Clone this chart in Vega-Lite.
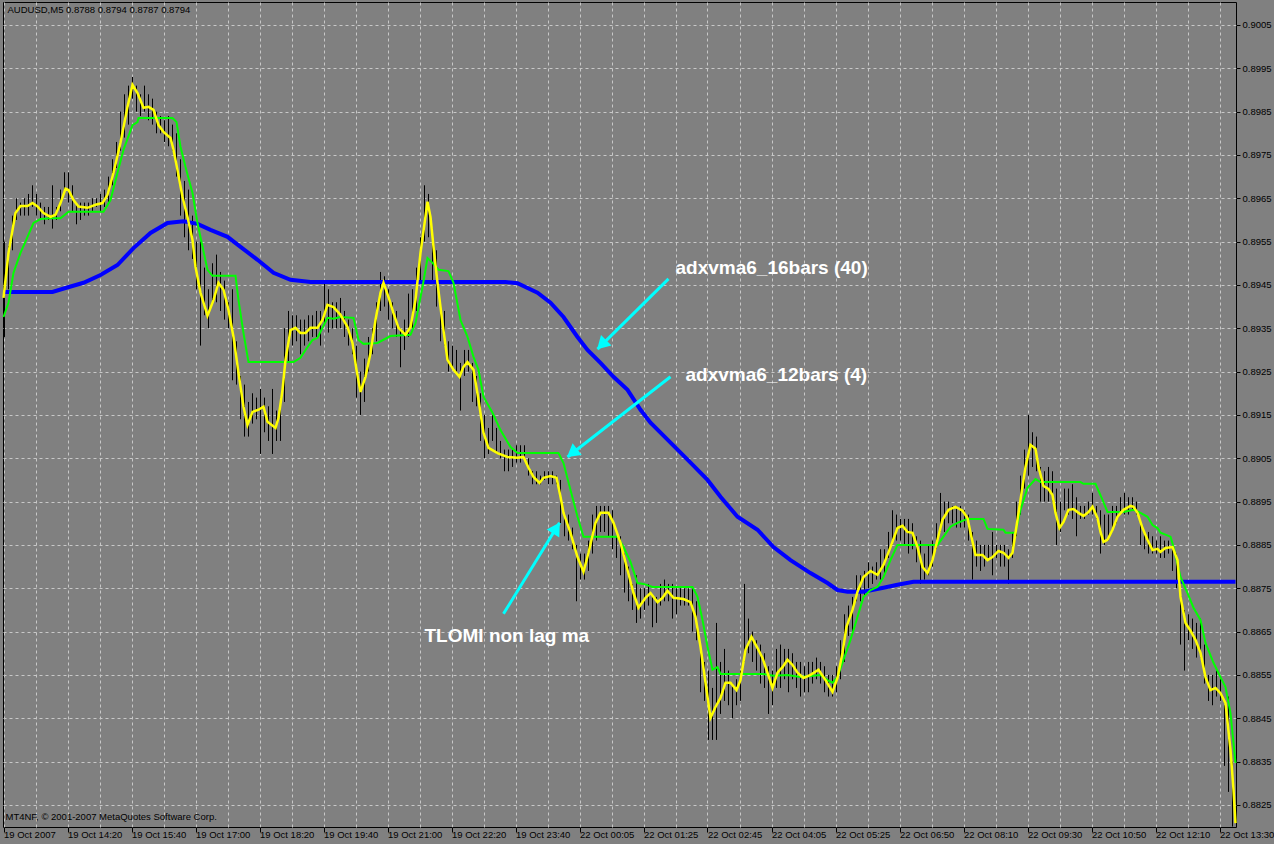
{
"$schema": "https://vega.github.io/schema/vega-lite/v6.json",
"width": 1233, "height": 825,
"autosize": {"type": "none"},
"padding": {"left": 3, "top": 2, "right": 38, "bottom": 17},
"background": "#808080",
"config": {"view": {"stroke": "#000000", "strokeWidth": 1, "fill": "#808080"}, "font": "Liberation Sans"},
"datasets": {
"bars": [
{"i":0,"p":0.8955,"l":0.8933},{"i":1,"p":0.8954,"l":0.8944},{"i":2,"p":0.8961,"l":0.8953},{"i":3,"p":0.8965,"l":0.8960},{"i":4,"p":0.8964,"l":0.8961},
{"i":5,"p":0.8965,"l":0.8961},{"i":6,"p":0.8966,"l":0.8961},{"i":7,"p":0.8968,"l":0.8963},{"i":8,"p":0.8966,"l":0.8961},{"i":9,"p":0.8964,"l":0.8960},
{"i":10,"p":0.8963,"l":0.8959},{"i":11,"p":0.8963,"l":0.8960},{"i":12,"p":0.8968,"l":0.8958},{"i":13,"p":0.8963,"l":0.8960},{"i":14,"p":0.8967,"l":0.8962},
{"i":15,"p":0.8971,"l":0.8966},{"i":16,"p":0.8971,"l":0.8964},{"i":17,"p":0.8968,"l":0.8962},{"i":18,"p":0.8964,"l":0.8959},{"i":19,"p":0.8964,"l":0.8960},
{"i":20,"p":0.8964,"l":0.8961},{"i":21,"p":0.8964,"l":0.8961},{"i":22,"p":0.8965,"l":0.8962},{"i":23,"p":0.8965,"l":0.8963},{"i":24,"p":0.8966,"l":0.8962},
{"i":25,"p":0.8967,"l":0.8963},{"i":26,"p":0.8970,"l":0.8964},{"i":27,"p":0.8974,"l":0.8968},{"i":28,"p":0.8978,"l":0.8972},{"i":29,"p":0.8985,"l":0.8976},
{"i":30,"p":0.8989,"l":0.8979},{"i":31,"p":0.8991,"l":0.8982},{"i":32,"p":0.8993,"l":0.8988},{"i":33,"p":0.8991,"l":0.8985},{"i":34,"p":0.8989,"l":0.8984},
{"i":35,"p":0.8991,"l":0.8985},{"i":36,"p":0.8989,"l":0.8983},{"i":37,"p":0.8988,"l":0.8982},{"i":38,"p":0.8985,"l":0.8980},{"i":39,"p":0.8984,"l":0.8980},
{"i":40,"p":0.8983,"l":0.8978},{"i":41,"p":0.8984,"l":0.8977},{"i":42,"p":0.8982,"l":0.8976},{"i":43,"p":0.8980,"l":0.8970},{"i":44,"p":0.8974,"l":0.8961},
{"i":45,"p":0.8969,"l":0.8956},{"i":46,"p":0.8967,"l":0.8953},{"i":47,"p":0.8961,"l":0.8951},{"i":48,"p":0.8955,"l":0.8944},{"i":49,"p":0.8955,"l":0.8931},
{"i":50,"p":0.8949,"l":0.8938},{"i":51,"p":0.8944,"l":0.8935},{"i":52,"p":0.8950,"l":0.8941},{"i":53,"p":0.8952,"l":0.8941},{"i":54,"p":0.8948,"l":0.8939},
{"i":55,"p":0.8946,"l":0.8937},{"i":56,"p":0.8941,"l":0.8935},{"i":57,"p":0.8944,"l":0.8923},{"i":58,"p":0.8932,"l":0.8922},{"i":59,"p":0.8924,"l":0.8914},
{"i":60,"p":0.8922,"l":0.8910},{"i":61,"p":0.8918,"l":0.8910},{"i":62,"p":0.8920,"l":0.8913},{"i":63,"p":0.8919,"l":0.8914},{"i":64,"p":0.8921,"l":0.8906},
{"i":65,"p":0.8919,"l":0.8911},{"i":66,"p":0.8917,"l":0.8909},{"i":67,"p":0.8921,"l":0.8906},{"i":68,"p":0.8916,"l":0.8909},{"i":69,"p":0.8919,"l":0.8909},
{"i":70,"p":0.8935,"l":0.8918},{"i":71,"p":0.8939,"l":0.8927},{"i":72,"p":0.8938,"l":0.8931},{"i":73,"p":0.8938,"l":0.8932},{"i":74,"p":0.8937,"l":0.8929},
{"i":75,"p":0.8937,"l":0.8931},{"i":76,"p":0.8938,"l":0.8932},{"i":77,"p":0.8938,"l":0.8933},{"i":78,"p":0.8939,"l":0.8933},{"i":79,"p":0.8939,"l":0.8931},
{"i":80,"p":0.8946,"l":0.8936},{"i":81,"p":0.8944,"l":0.8934},{"i":82,"p":0.8941,"l":0.8935},{"i":83,"p":0.8941,"l":0.8935},{"i":84,"p":0.8942,"l":0.8935},
{"i":85,"p":0.8939,"l":0.8933},{"i":86,"p":0.8937,"l":0.8931},{"i":87,"p":0.8935,"l":0.8929},{"i":88,"p":0.8931,"l":0.8919},{"i":89,"p":0.8925,"l":0.8915},
{"i":90,"p":0.8928,"l":0.8918},{"i":91,"p":0.8933,"l":0.8925},{"i":92,"p":0.8935,"l":0.8929},{"i":93,"p":0.8941,"l":0.8932},{"i":94,"p":0.8948,"l":0.8939},
{"i":95,"p":0.8947,"l":0.8940},{"i":96,"p":0.8944,"l":0.8937},{"i":97,"p":0.8941,"l":0.8935},{"i":98,"p":0.8939,"l":0.8933},{"i":99,"p":0.8935,"l":0.8926},
{"i":100,"p":0.8937,"l":0.8930},{"i":101,"p":0.8943,"l":0.8933},{"i":102,"p":0.8944,"l":0.8935},{"i":103,"p":0.8949,"l":0.8939},{"i":104,"p":0.8956,"l":0.8946},
{"i":105,"p":0.8968,"l":0.8955},{"i":106,"p":0.8966,"l":0.8956},{"i":107,"p":0.8958,"l":0.8946},{"i":108,"p":0.8953,"l":0.8940},{"i":109,"p":0.8941,"l":0.8932},
{"i":110,"p":0.8939,"l":0.8931},{"i":111,"p":0.8932,"l":0.8925},{"i":112,"p":0.8931,"l":0.8926},{"i":113,"p":0.8930,"l":0.8925},{"i":114,"p":0.8927,"l":0.8916},
{"i":115,"p":0.8930,"l":0.8924},{"i":116,"p":0.8930,"l":0.8925},{"i":117,"p":0.8927,"l":0.8918},{"i":118,"p":0.8924,"l":0.8917},{"i":119,"p":0.8920,"l":0.8909},
{"i":120,"p":0.8915,"l":0.8905},{"i":121,"p":0.8912,"l":0.8906},{"i":122,"p":0.8915,"l":0.8909},{"i":123,"p":0.8912,"l":0.8906},{"i":124,"p":0.8909,"l":0.8905},
{"i":125,"p":0.8907,"l":0.8902},{"i":126,"p":0.8907,"l":0.8902},{"i":127,"p":0.8907,"l":0.8903},{"i":128,"p":0.8908,"l":0.8904},{"i":129,"p":0.8908,"l":0.8904},
{"i":130,"p":0.8908,"l":0.8905},{"i":131,"p":0.8905,"l":0.8901},{"i":132,"p":0.8902,"l":0.8899},{"i":133,"p":0.8902,"l":0.8899},{"i":134,"p":0.8901,"l":0.8899},
{"i":135,"p":0.8902,"l":0.8900},{"i":136,"p":0.8902,"l":0.8899},{"i":137,"p":0.8902,"l":0.8899},{"i":138,"p":0.8901,"l":0.8899},{"i":139,"p":0.8900,"l":0.8890},
{"i":140,"p":0.8892,"l":0.8887},{"i":141,"p":0.8892,"l":0.8886},{"i":142,"p":0.8889,"l":0.8884},{"i":143,"p":0.8885,"l":0.8872},{"i":144,"p":0.8883,"l":0.8877},
{"i":145,"p":0.8883,"l":0.8877},{"i":146,"p":0.8886,"l":0.8879},{"i":147,"p":0.8892,"l":0.8883},{"i":148,"p":0.8894,"l":0.8886},{"i":149,"p":0.8894,"l":0.8888},
{"i":150,"p":0.8894,"l":0.8888},{"i":151,"p":0.8894,"l":0.8887},{"i":152,"p":0.8893,"l":0.8884},{"i":153,"p":0.8887,"l":0.8882},{"i":154,"p":0.8887,"l":0.8878},
{"i":155,"p":0.8883,"l":0.8874},{"i":156,"p":0.8880,"l":0.8872},{"i":157,"p":0.8876,"l":0.8870},{"i":158,"p":0.8878,"l":0.8867},{"i":159,"p":0.8875,"l":0.8868},
{"i":160,"p":0.8875,"l":0.8870},{"i":161,"p":0.8876,"l":0.8871},{"i":162,"p":0.8873,"l":0.8866},{"i":163,"p":0.8873,"l":0.8867},{"i":164,"p":0.8876,"l":0.8871},
{"i":165,"p":0.8877,"l":0.8872},{"i":166,"p":0.8876,"l":0.8872},{"i":167,"p":0.8876,"l":0.8868},{"i":168,"p":0.8875,"l":0.8869},{"i":169,"p":0.8875,"l":0.8871},
{"i":170,"p":0.8875,"l":0.8871},{"i":171,"p":0.8875,"l":0.8871},{"i":172,"p":0.8875,"l":0.8865},{"i":173,"p":0.8872,"l":0.8863},{"i":174,"p":0.8860,"l":0.8851},
{"i":175,"p":0.8858,"l":0.8849},{"i":176,"p":0.8856,"l":0.8840},{"i":177,"p":0.8852,"l":0.8840},{"i":178,"p":0.8867,"l":0.8840},{"i":179,"p":0.8858,"l":0.8846},
{"i":180,"p":0.8861,"l":0.8849},{"i":181,"p":0.8856,"l":0.8848},{"i":182,"p":0.8853,"l":0.8845},{"i":183,"p":0.8854,"l":0.8848},{"i":184,"p":0.8856,"l":0.8849},
{"i":185,"p":0.8876,"l":0.8858},{"i":186,"p":0.8868,"l":0.8860},{"i":187,"p":0.8865,"l":0.8858},{"i":188,"p":0.8863,"l":0.8856},{"i":189,"p":0.8862,"l":0.8853},
{"i":190,"p":0.8860,"l":0.8852},{"i":191,"p":0.8857,"l":0.8846},{"i":192,"p":0.8856,"l":0.8848},{"i":193,"p":0.8861,"l":0.8852},{"i":194,"p":0.8862,"l":0.8852},
{"i":195,"p":0.8861,"l":0.8854},{"i":196,"p":0.8861,"l":0.8851},{"i":197,"p":0.8860,"l":0.8854},{"i":198,"p":0.8858,"l":0.8852},{"i":199,"p":0.8858,"l":0.8850},
{"i":200,"p":0.8857,"l":0.8851},{"i":201,"p":0.8858,"l":0.8851},{"i":202,"p":0.8858,"l":0.8853},{"i":203,"p":0.8859,"l":0.8854},{"i":204,"p":0.8858,"l":0.8853},
{"i":205,"p":0.8857,"l":0.8851},{"i":206,"p":0.8855,"l":0.8850},{"i":207,"p":0.8855,"l":0.8850},{"i":208,"p":0.8857,"l":0.8851},{"i":209,"p":0.8863,"l":0.8854},
{"i":210,"p":0.8869,"l":0.8858},{"i":211,"p":0.8871,"l":0.8864},{"i":212,"p":0.8873,"l":0.8865},{"i":213,"p":0.8878,"l":0.8872},{"i":214,"p":0.8878,"l":0.8872},
{"i":215,"p":0.8879,"l":0.8873},{"i":216,"p":0.8881,"l":0.8875},{"i":217,"p":0.8880,"l":0.8876},{"i":218,"p":0.8881,"l":0.8877},{"i":219,"p":0.8884,"l":0.8877},
{"i":220,"p":0.8884,"l":0.8878},{"i":221,"p":0.8888,"l":0.8882},{"i":222,"p":0.8893,"l":0.8885},{"i":223,"p":0.8892,"l":0.8886},{"i":224,"p":0.8891,"l":0.8886},
{"i":225,"p":0.8891,"l":0.8885},{"i":226,"p":0.8891,"l":0.8883},{"i":227,"p":0.8890,"l":0.8884},{"i":228,"p":0.8887,"l":0.8881},{"i":229,"p":0.8886,"l":0.8876},
{"i":230,"p":0.8883,"l":0.8877},{"i":231,"p":0.8885,"l":0.8878},{"i":232,"p":0.8886,"l":0.8880},{"i":233,"p":0.8890,"l":0.8884},{"i":234,"p":0.8897,"l":0.8888},
{"i":235,"p":0.8895,"l":0.8888},{"i":236,"p":0.8895,"l":0.8890},{"i":237,"p":0.8894,"l":0.8890},{"i":238,"p":0.8894,"l":0.8889},{"i":239,"p":0.8894,"l":0.8889},
{"i":240,"p":0.8893,"l":0.8889},{"i":241,"p":0.8892,"l":0.8886},{"i":242,"p":0.8888,"l":0.8877},{"i":243,"p":0.8886,"l":0.8880},{"i":244,"p":0.8885,"l":0.8879},
{"i":245,"p":0.8885,"l":0.8880},{"i":246,"p":0.8885,"l":0.8882},{"i":247,"p":0.8888,"l":0.8878},{"i":248,"p":0.8885,"l":0.8882},{"i":249,"p":0.8885,"l":0.8880},
{"i":250,"p":0.8885,"l":0.8880},{"i":251,"p":0.8884,"l":0.8876},{"i":252,"p":0.8888,"l":0.8882},{"i":253,"p":0.8895,"l":0.8887},{"i":254,"p":0.8901,"l":0.8892},
{"i":255,"p":0.8907,"l":0.8898},{"i":256,"p":0.8915,"l":0.8901},{"i":257,"p":0.8911,"l":0.8903},{"i":258,"p":0.8910,"l":0.8902},{"i":259,"p":0.8903,"l":0.8895},
{"i":260,"p":0.8902,"l":0.8895},{"i":261,"p":0.8903,"l":0.8895},{"i":262,"p":0.8902,"l":0.8895},{"i":263,"p":0.8898,"l":0.8885},{"i":264,"p":0.8895,"l":0.8888},
{"i":265,"p":0.8898,"l":0.8893},{"i":266,"p":0.8898,"l":0.8892},{"i":267,"p":0.8899,"l":0.8891},{"i":268,"p":0.8896,"l":0.8887},{"i":269,"p":0.8894,"l":0.8891},
{"i":270,"p":0.8894,"l":0.8891},{"i":271,"p":0.8895,"l":0.8892},{"i":272,"p":0.8897,"l":0.8892},{"i":273,"p":0.8894,"l":0.8891},{"i":274,"p":0.8893,"l":0.8883},
{"i":275,"p":0.8892,"l":0.8885},{"i":276,"p":0.8892,"l":0.8886},{"i":277,"p":0.8894,"l":0.8888},{"i":278,"p":0.8894,"l":0.8890},{"i":279,"p":0.8896,"l":0.8892},
{"i":280,"p":0.8897,"l":0.8892},{"i":281,"p":0.8896,"l":0.8892},{"i":282,"p":0.8896,"l":0.8893},{"i":283,"p":0.8895,"l":0.8892},{"i":284,"p":0.8891,"l":0.8885},
{"i":285,"p":0.8888,"l":0.8884},{"i":286,"p":0.8888,"l":0.8883},{"i":287,"p":0.8887,"l":0.8883},{"i":288,"p":0.8886,"l":0.8883},{"i":289,"p":0.8887,"l":0.8882},
{"i":290,"p":0.8886,"l":0.8882},{"i":291,"p":0.8886,"l":0.8883},{"i":292,"p":0.8884,"l":0.8879},{"i":293,"p":0.8883,"l":0.8875},{"i":294,"p":0.8874,"l":0.8862},
{"i":295,"p":0.8870,"l":0.8856},{"i":296,"p":0.8869,"l":0.8863},{"i":297,"p":0.8868,"l":0.8861},{"i":298,"p":0.8867,"l":0.8859},{"i":299,"p":0.8868,"l":0.8859},
{"i":300,"p":0.8862,"l":0.8853},{"i":301,"p":0.8855,"l":0.8849},{"i":302,"p":0.8855,"l":0.8848},{"i":303,"p":0.8856,"l":0.8850},{"i":304,"p":0.8854,"l":0.8849},
{"i":305,"p":0.8848,"l":0.8834},{"i":306,"p":0.8850,"l":0.8828},{"i":307,"p":0.8835,"l":0.8820}
],
"blue": [
{"i":-0.25,"p":0.89434},{"i":12,"p":0.89434},{"i":15.25,"p":0.89443},{"i":19.75,"p":0.89455},{"i":24,"p":0.89473},{"i":28.25,"p":0.89496},
{"i":32.25,"p":0.89535},{"i":36.5,"p":0.8957},{"i":40.75,"p":0.89593},{"i":44.75,"p":0.89597},{"i":48.25,"p":0.89591},{"i":51.5,"p":0.89577},
{"i":55.75,"p":0.89561},{"i":59,"p":0.89538},{"i":63.25,"p":0.89508},{"i":67.25,"p":0.89478},{"i":71.5,"p":0.89462},{"i":76.5,"p":0.89457},
{"i":125.25,"p":0.89457},{"i":128.25,"p":0.89454},{"i":133.25,"p":0.89432},{"i":136.5,"p":0.89409},{"i":139.75,"p":0.89376},{"i":143.25,"p":0.8933},
{"i":145.75,"p":0.893},{"i":149,"p":0.8927},{"i":152.25,"p":0.89238},{"i":155.75,"p":0.89208},{"i":159,"p":0.89162},{"i":161.5,"p":0.89132},
{"i":166.5,"p":0.89086},{"i":171.5,"p":0.8904},{"i":175.75,"p":0.89},{"i":179,"p":0.88961},{"i":183.25,"p":0.88915},{"i":188.25,"p":0.88885},
{"i":192.25,"p":0.88845},{"i":196.5,"p":0.88815},{"i":201.5,"p":0.88785},{"i":205.75,"p":0.88762},{"i":208.25,"p":0.88746},{"i":210.75,"p":0.88742},
{"i":214.75,"p":0.88742},{"i":219.75,"p":0.88751},{"i":223.25,"p":0.88758},{"i":227.25,"p":0.88765},{"i":307.75,"p":0.88765}
],
"green": [
{"i":-0.25,"p":0.89376},{"i":1,"p":0.89409},{"i":2.25,"p":0.89478},{"i":4,"p":0.89524},{"i":5.75,"p":0.89561},{"i":7.25,"p":0.89593},
{"i":9,"p":0.89602},{"i":11.5,"p":0.89604},{"i":14,"p":0.89604},{"i":16,"p":0.89619},{"i":24.75,"p":0.89619},{"i":26.5,"p":0.89646},
{"i":28.25,"p":0.89709},{"i":29.75,"p":0.89762},{"i":32,"p":0.89819},{"i":33.25,"p":0.89826},{"i":33.5,"p":0.89835},{"i":42,"p":0.89835},
{"i":43,"p":0.89826},{"i":44,"p":0.89769},{"i":45.25,"p":0.89722},{"i":47,"p":0.89662},{"i":48.25,"p":0.89593},{"i":49.5,"p":0.89538},
{"i":50.75,"p":0.89485},{"i":52,"p":0.89471},{"i":57.75,"p":0.89471},{"i":58.5,"p":0.89415},{"i":59.75,"p":0.89339},{"i":61,"p":0.89272},
{"i":72.25,"p":0.89272},{"i":74,"p":0.89282},{"i":75.25,"p":0.893},{"i":77,"p":0.89323},{"i":78.25,"p":0.89328},{"i":80.75,"p":0.89374},
{"i":82.25,"p":0.89372},{"i":84,"p":0.89376},{"i":87.25,"p":0.89374},{"i":88.5,"p":0.89323},{"i":89.75,"p":0.89314},{"i":93.25,"p":0.89316},
{"i":96.5,"p":0.89332},{"i":101.5,"p":0.89335},{"i":102.75,"p":0.89362},{"i":104.5,"p":0.89445},{"i":105.75,"p":0.89512},{"i":107,"p":0.89501},
{"i":108.5,"p":0.89485},{"i":111,"p":0.89482},{"i":112.25,"p":0.89455},{"i":114,"p":0.89369},{"i":115.75,"p":0.8933},{"i":117.25,"p":0.89284},
{"i":118.5,"p":0.89254},{"i":119.75,"p":0.89192},{"i":122,"p":0.89155},{"i":124,"p":0.89115},{"i":126.5,"p":0.89076},{"i":128.25,"p":0.89062},
{"i":138.5,"p":0.89062},{"i":139.75,"p":0.89039},{"i":141.5,"p":0.88977},{"i":143.25,"p":0.88915},{"i":144.75,"p":0.88869},{"i":153.25,"p":0.88869},
{"i":154.75,"p":0.88845},{"i":156.5,"p":0.88811},{"i":158.25,"p":0.88762},{"i":159.75,"p":0.8876},{"i":162,"p":0.88753},{"i":172,"p":0.88753},
{"i":173.25,"p":0.8873},{"i":174.5,"p":0.88677},{"i":175.75,"p":0.88615},{"i":177,"p":0.88562},{"i":178.25,"p":0.88568},{"i":179,"p":0.88552},
{"i":189.75,"p":0.88552},{"i":192.25,"p":0.88548},{"i":195.75,"p":0.8855},{"i":199,"p":0.88545},{"i":204,"p":0.8855},{"i":205.75,"p":0.88538},
{"i":207,"p":0.88532},{"i":208.25,"p":0.88545},{"i":209.75,"p":0.88585},{"i":211.5,"p":0.88631},{"i":213.25,"p":0.88684},{"i":214.75,"p":0.8873},
{"i":216.5,"p":0.88746},{"i":218.25,"p":0.88753},{"i":219.75,"p":0.88776},{"i":221.5,"p":0.88815},{"i":223.25,"p":0.8885},{"i":233.25,"p":0.8885},
{"i":234.75,"p":0.88869},{"i":236.5,"p":0.88892},{"i":238.25,"p":0.88901},{"i":240.75,"p":0.8891},{"i":244.75,"p":0.8891},{"i":245.75,"p":0.88887},
{"i":249.75,"p":0.88885},{"i":250.25,"p":0.88878},{"i":252.75,"p":0.88878},{"i":254,"p":0.88931},{"i":255.75,"p":0.88982},{"i":257.75,"p":0.89002},
{"i":259,"p":0.88995},{"i":269,"p":0.88995},{"i":269.75,"p":0.88991},{"i":272.75,"p":0.88991},{"i":274.5,"p":0.88954},{"i":275.75,"p":0.88926},
{"i":279.75,"p":0.88926},{"i":282.25,"p":0.88931},{"i":284,"p":0.88924},{"i":285.75,"p":0.88915},{"i":287,"p":0.88896},{"i":288.25,"p":0.88889},
{"i":289,"p":0.88878},{"i":291.5,"p":0.88869},{"i":292.25,"p":0.88845},{"i":294,"p":0.88776},{"i":295.75,"p":0.88739},{"i":297.25,"p":0.88705},
{"i":299,"p":0.88677},{"i":300.25,"p":0.88624},{"i":302.25,"p":0.88578},{"i":304,"p":0.88545},{"i":305.25,"p":0.88522},{"i":306.5,"p":0.88462},
{"i":307.75,"p":0.88347}
],
"yellow": [
{"i":-0.25,"p":0.8942},{"i":1,"p":0.89524},{"i":2.75,"p":0.89616},{"i":4,"p":0.89632},{"i":5.75,"p":0.89632},{"i":7,"p":0.89639},
{"i":8.25,"p":0.89631},{"i":9.75,"p":0.89616},{"i":11.5,"p":0.89607},{"i":12.75,"p":0.89612},{"i":14,"p":0.89639},{"i":15.25,"p":0.89672},
{"i":16,"p":0.89669},{"i":17.25,"p":0.89646},{"i":18.5,"p":0.89631},{"i":20.75,"p":0.89628},{"i":22.75,"p":0.89635},{"i":24.5,"p":0.89639},
{"i":25.75,"p":0.89658},{"i":27.25,"p":0.89709},{"i":29,"p":0.89778},{"i":30.75,"p":0.89861},{"i":32,"p":0.89912},{"i":33.25,"p":0.89893},
{"i":34.75,"p":0.89859},{"i":36,"p":0.89861},{"i":37.25,"p":0.89854},{"i":38.5,"p":0.89819},{"i":39.75,"p":0.89803},{"i":41.5,"p":0.89789},
{"i":42.25,"p":0.89762},{"i":43.25,"p":0.89715},{"i":44.5,"p":0.89653},{"i":45.75,"p":0.89607},{"i":47,"p":0.89554},{"i":47.75,"p":0.89492},
{"i":49,"p":0.89432},{"i":50.75,"p":0.89379},{"i":52.25,"p":0.89415},{"i":53.5,"p":0.89455},{"i":54.75,"p":0.89439},{"i":56,"p":0.89392},
{"i":57.25,"p":0.8933},{"i":58.5,"p":0.89247},{"i":59.75,"p":0.89169},{"i":60.75,"p":0.89127},{"i":62,"p":0.89157},{"i":63.5,"p":0.89162},
{"i":64.75,"p":0.89169},{"i":65.75,"p":0.89134},{"i":67.75,"p":0.8912},{"i":68.5,"p":0.89143},{"i":69.5,"p":0.89208},{"i":70.25,"p":0.89277},
{"i":71.5,"p":0.89346},{"i":72.75,"p":0.89351},{"i":74,"p":0.89339},{"i":75.25,"p":0.89339},{"i":76.5,"p":0.89351},{"i":78.25,"p":0.89351},
{"i":79.5,"p":0.89369},{"i":80.75,"p":0.89404},{"i":82.25,"p":0.89399},{"i":84,"p":0.89381},{"i":85.75,"p":0.89353},{"i":87,"p":0.89316},
{"i":88,"p":0.89254},{"i":89,"p":0.89203},{"i":90.25,"p":0.89238},{"i":91.5,"p":0.89293},{"i":92.75,"p":0.89369},{"i":94,"p":0.89432},
{"i":94.75,"p":0.89455},{"i":96,"p":0.89422},{"i":97.25,"p":0.89385},{"i":98.5,"p":0.89351},{"i":100.25,"p":0.89335},{"i":101.5,"p":0.89353},
{"i":102.75,"p":0.89415},{"i":104,"p":0.89524},{"i":105.75,"p":0.89642},{"i":106.5,"p":0.89607},{"i":107.25,"p":0.89538},{"i":108.25,"p":0.89455},
{"i":109.5,"p":0.89362},{"i":110.75,"p":0.89277},{"i":112.25,"p":0.89254},{"i":113.75,"p":0.89238},{"i":114.75,"p":0.89261},{"i":115.75,"p":0.89272},
{"i":117.25,"p":0.89254},{"i":118.5,"p":0.89185},{"i":119.75,"p":0.89109},{"i":121,"p":0.89074},{"i":123.25,"p":0.89062},{"i":125.75,"p":0.89053},
{"i":128.25,"p":0.89051},{"i":129.75,"p":0.89053},{"i":131,"p":0.89028},{"i":132.25,"p":0.89007},{"i":133.75,"p":0.88993},{"i":134.75,"p":0.89005},
{"i":136.5,"p":0.89009},{"i":138,"p":0.89005},{"i":139,"p":0.88961},{"i":139.75,"p":0.88924},{"i":141.5,"p":0.88878},{"i":143.25,"p":0.88822},
{"i":144.75,"p":0.88788},{"i":146,"p":0.88832},{"i":147.75,"p":0.88901},{"i":149,"p":0.88924},{"i":151,"p":0.88924},{"i":152.25,"p":0.88901},
{"i":154,"p":0.88855},{"i":155.75,"p":0.88792},{"i":157.25,"p":0.88739},{"i":158.5,"p":0.88705},{"i":160.25,"p":0.88728},{"i":161.5,"p":0.88739},
{"i":163.25,"p":0.88718},{"i":164.5,"p":0.88728},{"i":165.75,"p":0.88744},{"i":167.25,"p":0.88728},{"i":169.75,"p":0.88725},{"i":171.5,"p":0.88718},
{"i":172.75,"p":0.88684},{"i":174,"p":0.88615},{"i":175.25,"p":0.88532},{"i":176.5,"p":0.88451},{"i":177.75,"p":0.88476},{"i":179,"p":0.88497},
{"i":180.25,"p":0.88532},{"i":181.5,"p":0.88532},{"i":183,"p":0.88515},{"i":184,"p":0.88538},{"i":185.25,"p":0.88608},{"i":186.75,"p":0.88638},
{"i":188.25,"p":0.88612},{"i":189.5,"p":0.88589},{"i":190.75,"p":0.88555},{"i":192,"p":0.8852},{"i":193.25,"p":0.88555},{"i":194.5,"p":0.88568},
{"i":195.75,"p":0.88585},{"i":197,"p":0.88573},{"i":198.25,"p":0.88555},{"i":199.75,"p":0.88543},{"i":201.5,"p":0.8855},{"i":203.5,"p":0.88562},
{"i":205.25,"p":0.88538},{"i":207,"p":0.88511},{"i":208.25,"p":0.88543},{"i":209.5,"p":0.88601},{"i":210.5,"p":0.88661},{"i":212,"p":0.887},
{"i":213.25,"p":0.88742},{"i":214.75,"p":0.88776},{"i":216.5,"p":0.8879},{"i":218.25,"p":0.88781},{"i":219.75,"p":0.88804},{"i":221.5,"p":0.88845},
{"i":223.25,"p":0.88889},{"i":224.5,"p":0.88894},{"i":225.75,"p":0.8888},{"i":227,"p":0.88878},{"i":228.25,"p":0.88845},{"i":229.5,"p":0.88799},
{"i":230.75,"p":0.88785},{"i":232,"p":0.88815},{"i":233.25,"p":0.88862},{"i":234.5,"p":0.88908},{"i":236,"p":0.88931},{"i":237.75,"p":0.88938},
{"i":239.5,"p":0.88929},{"i":240.75,"p":0.88912},{"i":241.5,"p":0.88878},{"i":242.75,"p":0.88827},{"i":244.5,"p":0.88827},{"i":245.75,"p":0.88815},
{"i":247,"p":0.88822},{"i":248.5,"p":0.88836},{"i":249.75,"p":0.88832},{"i":251,"p":0.8882},{"i":252,"p":0.88832},{"i":252.75,"p":0.88878},
{"i":254,"p":0.88954},{"i":255.25,"p":0.8903},{"i":256.5,"p":0.89081},{"i":257.75,"p":0.89072},{"i":258.5,"p":0.8903},{"i":259.75,"p":0.88986},
{"i":261,"p":0.88979},{"i":262,"p":0.88965},{"i":262.75,"p":0.88924},{"i":263.75,"p":0.88889},{"i":264.75,"p":0.88903},{"i":266,"p":0.88931},
{"i":267.25,"p":0.88933},{"i":268.5,"p":0.88924},{"i":269.75,"p":0.88917},{"i":271,"p":0.88926},{"i":272,"p":0.88938},{"i":273.25,"p":0.88912},
{"i":274,"p":0.8888},{"i":274.75,"p":0.88857},{"i":275.75,"p":0.88862},{"i":277,"p":0.88885},{"i":278.25,"p":0.88915},{"i":279.75,"p":0.88931},
{"i":281.5,"p":0.8894},{"i":282.25,"p":0.88938},{"i":283.25,"p":0.88924},{"i":284.5,"p":0.88889},{"i":285.75,"p":0.88862},{"i":287,"p":0.88838},
{"i":288.25,"p":0.88841},{"i":289,"p":0.88834},{"i":290.25,"p":0.88843},{"i":292,"p":0.88845},{"i":293.25,"p":0.88815},{"i":294,"p":0.8873},
{"i":295.25,"p":0.8867},{"i":296.5,"p":0.88652},{"i":297.75,"p":0.88631},{"i":299,"p":0.88601},{"i":300.25,"p":0.88545},{"i":301.5,"p":0.88515},
{"i":302.75,"p":0.8852},{"i":304,"p":0.88508},{"i":305.25,"p":0.88485},{"i":306.5,"p":0.88377},{"i":307.25,"p":0.88285},{"i":307.75,"p":0.88208}
],
"arrows": [
{"i":166,"p":0.89464,"i2":148.25,"p2":0.89302},
{"i":166.5,"p":0.89238,"i2":140.75,"p2":0.89053},
{"i":124.75,"p":0.88691,"i2":138.75,"p2":0.88901}
],
"heads": [
{"i":149.3,"p":0.89312,"a":225},
{"i":141.9,"p":0.89062,"a":232},
{"i":137.97,"p":0.88889,"a":32}
],
"notes": [
{"i":167.75,"p":0.89489,"t":"adxvma6_16bars (40)"},
{"i":170.25,"p":0.89242,"t":"adxvma6_12bars (4)"},
{"i":105,"p":0.8864,"t":"TLOMI non lag ma"}
],
"captions": [
{"i":0.75,"p":0.90085,"t":"AUDUSD,M5  0.8788 0.8794 0.8787 0.8794"},
{"i":0.25,"p":0.88222,"t":"MT4NF, © 2001-2007 MetaQuotes Software Corp."}
]
},
"encoding": {
"x": {"field": "i", "type": "quantitative",
 "scale": {"domain": [-0.375, 307.875], "nice": false, "zero": false},
 "axis": {"title": null,
  "values": [-0.25,7.75,15.75,23.75,31.75,39.75,47.75,55.75,63.75,71.75,79.75,87.75,95.75,103.75,111.75,119.75,127.75,135.75,143.75,151.75,159.75,167.75,175.75,183.75,191.75,199.75,207.75,215.75,223.75,231.75,239.75,247.75,255.75,263.75,271.75,279.75,287.75,295.75,303.75],
  "grid": true, "gridColor": "#c8c8c8", "gridDash": [3,3], "gridWidth": 1,
  "domain": false, "tickColor": "#000000", "tickSize": 5, "tickWidth": 1,
  "tickOpacity": {"condition": {"test": "round(datum.value + 0.25) % 16 === 0", "value": 1}, "value": 0},
  "labelExpr": "round(datum.value + 0.25) % 16 === 0 ? ['19 Oct 2007','19 Oct 14:20','19 Oct 15:40','19 Oct 17:00','19 Oct 18:20','19 Oct 19:40','19 Oct 21:00','19 Oct 22:20','19 Oct 23:40','22 Oct 00:05','22 Oct 01:25','22 Oct 02:45','22 Oct 04:05','22 Oct 05:25','22 Oct 06:50','22 Oct 08:10','22 Oct 09:30','22 Oct 10:50','22 Oct 12:10','22 Oct 13:30'][round(datum.value + 0.25) / 16] : ''",
  "labelAlign": "left", "labelBaseline": "top", "labelPadding": -3, "labelDx": 1,
  "labelFont": "Liberation Sans", "labelFontSize": 9.5, "labelColor": "#000000",
  "labelFlush": false, "labelOverlap": false, "labelBound": false}},
"y": {"field": "p", "type": "quantitative",
 "scale": {"domain": [0.88199, 0.90103], "nice": false, "zero": false},
 "axis": {"title": null, "orient": "right",
  "values": [0.8825,0.8835,0.8845,0.8855,0.8865,0.8875,0.8885,0.8895,0.8905,0.8915,0.8925,0.8935,0.8945,0.8955,0.8965,0.8975,0.8985,0.8995,0.9005],
  "format": ".4f", "grid": true, "gridColor": "#c8c8c8", "gridDash": [3,3], "gridWidth": 1,
  "domain": false, "tickColor": "#000000", "tickSize": 4, "labelPadding": 2,
  "labelFont": "Liberation Sans", "labelFontSize": 9.5, "labelColor": "#000000",
  "labelFlush": false, "labelOverlap": false, "labelBaseline": "middle"}}
},
"layer": [
{"data": {"name": "bars"}, "mark": {"type": "rule", "color": "#000000", "strokeWidth": 1}, "encoding": {"y2": {"field": "l"}}},
{"data": {"name": "blue"}, "mark": {"type": "line", "color": "#0000ff", "strokeWidth": 4}},
{"data": {"name": "green"}, "mark": {"type": "line", "color": "#00ff00", "strokeWidth": 2}},
{"data": {"name": "yellow"}, "mark": {"type": "line", "color": "#ffff00", "strokeWidth": 2.5}},
{"data": {"name": "arrows"}, "mark": {"type": "rule", "color": "#00ffff", "strokeWidth": 3}, "encoding": {"x2": {"field": "i2"}, "y2": {"field": "p2"}}},
{"data": {"name": "heads"}, "mark": {"type": "point", "shape": "triangle-up", "filled": true, "color": "#00ffff", "opacity": 1, "size": 220}, "encoding": {"angle": {"field": "a", "type": "quantitative", "scale": null}}},
{"data": {"name": "notes"}, "mark": {"type": "text", "align": "left", "baseline": "middle", "font": "Liberation Sans", "fontSize": 19, "fontWeight": "bold", "color": "#ffffff"}, "encoding": {"text": {"field": "t"}}},
{"data": {"name": "captions"}, "mark": {"type": "text", "align": "left", "baseline": "middle", "font": "Liberation Sans", "fontSize": 9.5, "color": "#000000"}, "encoding": {"text": {"field": "t"}}}
]
}
